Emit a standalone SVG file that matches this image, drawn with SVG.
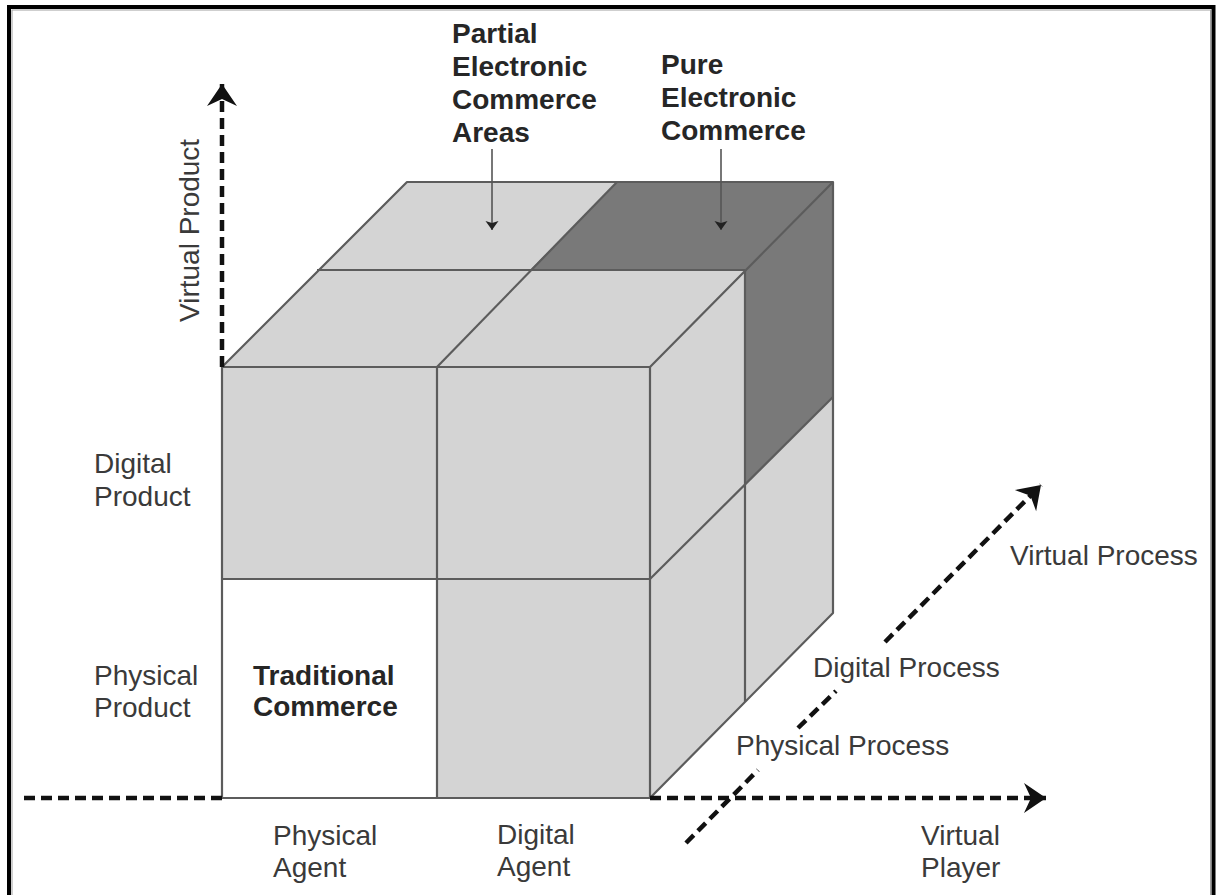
<svg xmlns="http://www.w3.org/2000/svg" width="1216" height="895" viewBox="0 0 1216 895">
  <defs>
    <style>
      .face { stroke: none; }
      .light { fill: #d4d4d4; }
      .dark { fill: #797979; }
      .edge { fill: none; stroke: #5c5c5c; stroke-width: 2.2; stroke-linejoin: round; }
      .axis { fill: none; stroke: #111; stroke-width: 4.5; stroke-dasharray: 11 6; }
      .pointer { fill: none; stroke: #555; stroke-width: 1.6; }
      .lbl { font-family: "Liberation Sans", Arial, Helvetica, sans-serif; font-size: 28px; fill: #3a3a3a; }
      .bold { font-weight: bold; fill: #262626; }
    </style>
    <marker id="axisHead" viewBox="-24 -16 26 32" markerWidth="26" markerHeight="32" refX="0" refY="0" orient="auto" markerUnits="userSpaceOnUse">
      <path d="M0,0 L-22,-15 L-15,0 L-22,15 Z" fill="#111"/>
    </marker>
    <marker id="pointerHead" viewBox="-10 -8 11 16" markerWidth="11" markerHeight="16" refX="0" refY="0" orient="auto" markerUnits="userSpaceOnUse">
      <path d="M0,0 L-9,-6.5 L-7,0 L-9,6.5 Z" fill="#222"/>
    </marker>
  </defs>

  <rect x="0" y="0" width="1216" height="895" fill="#fff"/>

  <!-- outer frame (open at the bottom) -->
  <rect x="9" y="7" width="1204.5" height="900" fill="none" stroke="#000" stroke-width="4"/>
  <rect x="12" y="10" width="1198.5" height="900" fill="none" stroke="#a0a0a0" stroke-width="1"/>

  <!-- the cube -->
  <g id="cube">
    <g id="front-face">
      <rect class="face light" x="222" y="367" width="428" height="431"/>
      <rect class="face" x="222" y="579" width="215" height="219" fill="#fff"/>
    </g>
    <g id="top-face">
      <polygon class="face light" points="222,367 407,182 833,182 650,367"/>
      <polygon class="face dark" points="530,270 745,270 833,182 617,182"/>
    </g>
    <g id="right-face">
      <polygon class="face light" points="650,367 833,182 833,613 650,798"/>
      <polygon class="face dark" points="745,270 833,182 833,397 745,485"/>
    </g>
    <g id="cube-edges">
      <!-- outline -->
      <polygon class="edge" points="222,367 407,182 833,182 833,613 650,798 222,798"/>
      <polyline class="edge" points="222,367 650,367 833,182"/>
      <line class="edge" x1="650" y1="367" x2="650" y2="798"/>
      <!-- front dividers -->
      <line class="edge" x1="437" y1="367" x2="437" y2="798"/>
      <line class="edge" x1="222" y1="579" x2="650" y2="579"/>
      <!-- top dividers -->
      <line class="edge" x1="317" y1="270" x2="745" y2="270"/>
      <line class="edge" x1="437" y1="367" x2="617" y2="182"/>
      <!-- right dividers -->
      <line class="edge" x1="745" y1="270" x2="745" y2="702"/>
      <line class="edge" x1="650" y1="579" x2="833" y2="397"/>
    </g>
  </g>

  <!-- axes and pointers -->
  <g id="connectors">
    <line id="axis-product" class="axis" x1="222" y1="367" x2="222" y2="84" marker-end="url(#axisHead)"/>
    <line id="axis-player-left" class="axis" x1="222" y1="798" x2="22" y2="798"/>
    <line id="axis-player" class="axis" x1="650" y1="798" x2="1046" y2="798" marker-end="url(#axisHead)"/>
    <line id="axis-process-a" class="axis" x1="686" y1="843" x2="758" y2="770"/>
    <line id="axis-process-b" class="axis" x1="798" y1="728" x2="836" y2="691"/>
    <line id="axis-process-c" class="axis" x1="885" y1="642" x2="1041" y2="485" marker-end="url(#axisHead)"/>
    <line id="pointer-partial" class="pointer" x1="492" y1="149" x2="492" y2="230" marker-end="url(#pointerHead)"/>
    <line id="pointer-pure" class="pointer" x1="721" y1="149" x2="721" y2="230" marker-end="url(#pointerHead)"/>
  </g>

  <!-- labels -->
  <g id="label-virtual-product">
    <text class="lbl" transform="translate(199,322) rotate(-90)">Virtual Product</text>
  </g>
  <g id="label-partial">
    <text class="lbl bold" x="452" y="43">Partial</text>
    <text class="lbl bold" x="452" y="76">Electronic</text>
    <text class="lbl bold" x="452" y="109">Commerce</text>
    <text class="lbl bold" x="452" y="142">Areas</text>
  </g>
  <g id="label-pure">
    <text class="lbl bold" x="661" y="74">Pure</text>
    <text class="lbl bold" x="661" y="107">Electronic</text>
    <text class="lbl bold" x="661" y="140">Commerce</text>
  </g>
  <g id="label-digital-product">
    <text class="lbl" x="94" y="473">Digital</text>
    <text class="lbl" x="94" y="506">Product</text>
  </g>
  <g id="label-physical-product">
    <text class="lbl" x="94" y="685">Physical</text>
    <text class="lbl" x="94" y="717">Product</text>
  </g>
  <g id="label-traditional">
    <text class="lbl bold" x="253" y="685">Traditional</text>
    <text class="lbl bold" x="253" y="716">Commerce</text>
  </g>
  <g id="label-physical-agent">
    <text class="lbl" x="273" y="845">Physical</text>
    <text class="lbl" x="273" y="877">Agent</text>
  </g>
  <g id="label-digital-agent">
    <text class="lbl" x="497" y="844">Digital</text>
    <text class="lbl" x="497" y="876">Agent</text>
  </g>
  <g id="label-virtual-player">
    <text class="lbl" x="921" y="845">Virtual</text>
    <text class="lbl" x="921" y="877">Player</text>
  </g>
  <g id="label-virtual-process">
    <text class="lbl" x="1010" y="565">Virtual Process</text>
  </g>
  <g id="label-digital-process">
    <text class="lbl" x="813" y="677">Digital Process</text>
  </g>
  <g id="label-physical-process">
    <text class="lbl" x="736" y="755">Physical Process</text>
  </g>
</svg>
